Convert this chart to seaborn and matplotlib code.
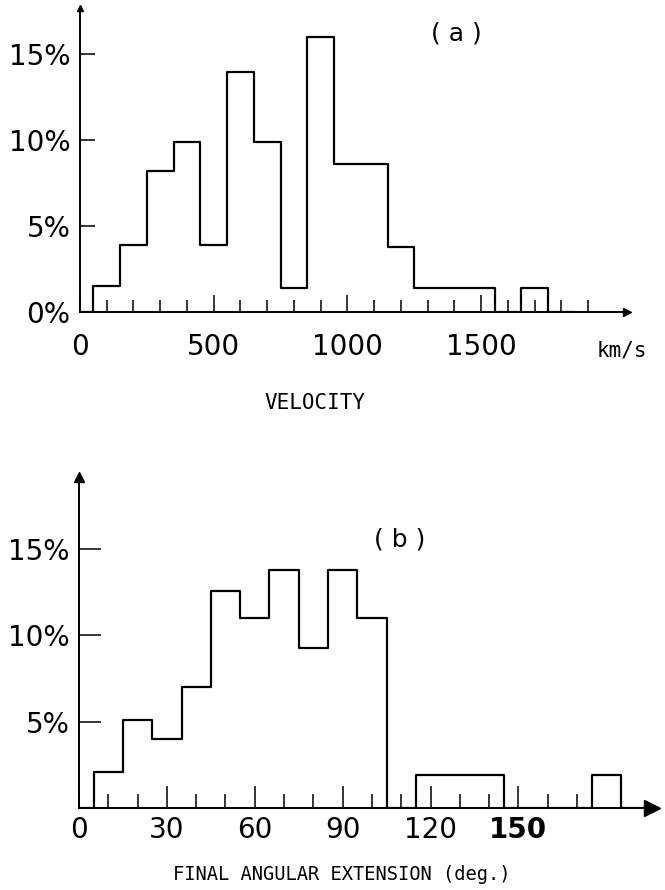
import numpy as np
import pandas as pd
import matplotlib
matplotlib.use("Agg")
import matplotlib.pyplot as plt
from matplotlib.ticker import FixedLocator
import seaborn as sns

# ---------------- data ----------------
# (a) velocity distribution, 100 km/s bins (bin centres, km/s) -> percent of events
vel_centers = [0, 100, 200, 300, 400, 500, 600, 700, 800, 900,
               1000, 1100, 1200, 1300, 1400, 1500, 1600, 1700, 1800]
vel_pct = [0, 1.5, 3.9, 8.2, 9.9, 3.9, 14.0, 9.9, 1.4, 16.0,
           8.6, 8.6, 3.8, 1.4, 1.4, 1.4, 0, 1.4, 0]
vel_tick_values = [0, 500, 1000, 1500]
vel_tick_labels = ["0", "500", "1000", "1500"]
vel_pct_ticks = [0, 5, 10, 15]
vel_pct_labels = ["0%", "5%", "10%", "15%"]

# (b) final angular extension, 10 deg bins (bin centres, deg) -> percent
ang_centers = [0, 10, 20, 30, 40, 50, 60, 70, 80, 90,
               100, 110, 120, 130, 140, 150, 160, 170, 180, 190]
ang_pct = [0, 2.1, 5.1, 4.0, 7.0, 12.6, 11.0, 13.8, 9.3, 13.8,
           11.0, 0, 1.9, 1.9, 1.9, 0, 0, 0, 1.9, 0]
ang_tick_values = [0, 30, 60, 90, 120, 150]
ang_tick_labels = ["0", "30", "60", "90", "120", "150"]
ang_pct_ticks = [5, 10, 15]
ang_pct_labels = ["5%", "10%", "15%"]

vel_df = pd.DataFrame({"velocity": vel_centers, "pct": vel_pct})
ang_df = pd.DataFrame({"angle": ang_centers, "pct": ang_pct})

# ---------------- style ----------------
sns.set_style("ticks")
plt.rcParams["font.family"] = ["DejaVu Sans"]
plt.rcParams["axes.linewidth"] = 1.4
plt.rcParams["text.color"] = "black"
plt.rcParams["axes.labelcolor"] = "black"
plt.rcParams["xtick.color"] = "black"
plt.rcParams["ytick.color"] = "black"

W, H = 665, 890
fig = plt.figure(figsize=(W / 100, H / 100), dpi=100)
fig.patch.set_facecolor("white")

mono = "DejaVu Sans Mono"

def setup(ax):
    ax.set_facecolor("white")
    ax.spines["top"].set_visible(False)
    ax.spines["right"].set_visible(False)
    ax.spines["left"].set_color("black")
    ax.spines["bottom"].set_color("black")
    ax.grid(False)

# ---------------- panel (a) ----------------
ax_a = fig.add_axes([80 / W, 1 - 312 / H, 547 / W, 304 / H])
setup(ax_a)
vel_edges = [c - 50 for c in vel_centers] + [vel_centers[-1] + 50]
sns.histplot(data=vel_df, x="velocity", weights="pct", bins=vel_edges,
             element="step", fill=False, color="black", linewidth=1.6, ax=ax_a)
ax_a.set_xlim(0, 2045)
ax_a.set_ylim(0, 17.7)
ax_a.set_ylabel("")
ax_a.set_xticks(vel_tick_values)
ax_a.set_xticklabels(vel_tick_labels)
ax_a.xaxis.set_minor_locator(FixedLocator(
    [v for v in range(100, 2000, 100) if v % 500 != 0]))
ax_a.set_yticks(vel_pct_ticks)
ax_a.set_yticklabels(vel_pct_labels)
ax_a.tick_params(axis="x", which="major", direction="in", length=12, width=1.1,
                 pad=15, labelsize=20, colors="black")
ax_a.tick_params(axis="x", which="minor", direction="in", length=8.5, width=1.1)
ax_a.tick_params(axis="y", which="major", direction="in", length=11, width=1.1,
                 pad=7, labelsize=20, colors="black")
ax_a.set_xlabel("VELOCITY", family=mono, fontsize=15, va="center", color="black")
ax_a.xaxis.set_label_coords((315 - 80) / 547, (312 - 403) / 304)
ax_a.plot(1, 0, ">", color="black", ms=6, transform=ax_a.get_yaxis_transform(),
          clip_on=False)
ax_a.plot(0, 1, "^", color="black", ms=5, transform=ax_a.get_xaxis_transform(),
          clip_on=False)
fig.text(456 / W, 1 - 33 / H, "( a )", ha="center", va="center", fontsize=18,
         color="black")
fig.text(622 / W, 1 - 351 / H, "km/s", ha="center", va="center",
         family=mono, fontsize=15, color="black")

# ---------------- panel (b) ----------------
ax_b = fig.add_axes([79 / W, 1 - 807.7 / H, 573 / W, 330.7 / H])
setup(ax_b)
ang_edges = [c - 5 for c in ang_centers] + [ang_centers[-1] + 5]
sns.histplot(data=ang_df, x="angle", weights="pct", bins=ang_edges,
             element="step", fill=False, color="black", linewidth=1.6, ax=ax_b)
ax_b.set_xlim(0, 195.6)
ax_b.set_ylim(0, 19.2)
ax_b.set_ylabel("")
ax_b.set_xticks(ang_tick_values)
ax_b.set_xticklabels(ang_tick_labels)
ax_b.xaxis.set_minor_locator(FixedLocator(
    [v for v in range(10, 190, 10) if v % 30 != 0]))
ax_b.set_yticks(ang_pct_ticks)
ax_b.set_yticklabels(ang_pct_labels)
ax_b.tick_params(axis="x", which="major", direction="in", length=16, width=1.1,
                 pad=6, labelsize=20, colors="black")
ax_b.tick_params(axis="x", which="minor", direction="in", length=10, width=1.1)
ax_b.tick_params(axis="y", which="major", direction="in", length=16, width=1.1,
                 pad=7, labelsize=20, colors="black")
ax_b.get_xticklabels()[5].set_fontweight("bold")
ax_b.set_xlabel("FINAL ANGULAR EXTENSION (deg.)", family=mono, fontsize=13.5,
                va="center", color="black")
ax_b.xaxis.set_label_coords((341.7 - 79) / 573, (807.7 - 875) / 330.7)
ax_b.plot(1, 0, ">", color="black", ms=12, transform=ax_b.get_yaxis_transform(),
          clip_on=False)
ax_b.plot(0, 1, "^", color="black", ms=7, transform=ax_b.get_xaxis_transform(),
          clip_on=False)
fig.text(400 / W, 1 - 540 / H, "( b )", ha="center", va="center", fontsize=18,
         color="black")

fig.savefig("out.png", dpi=100, facecolor="white")
